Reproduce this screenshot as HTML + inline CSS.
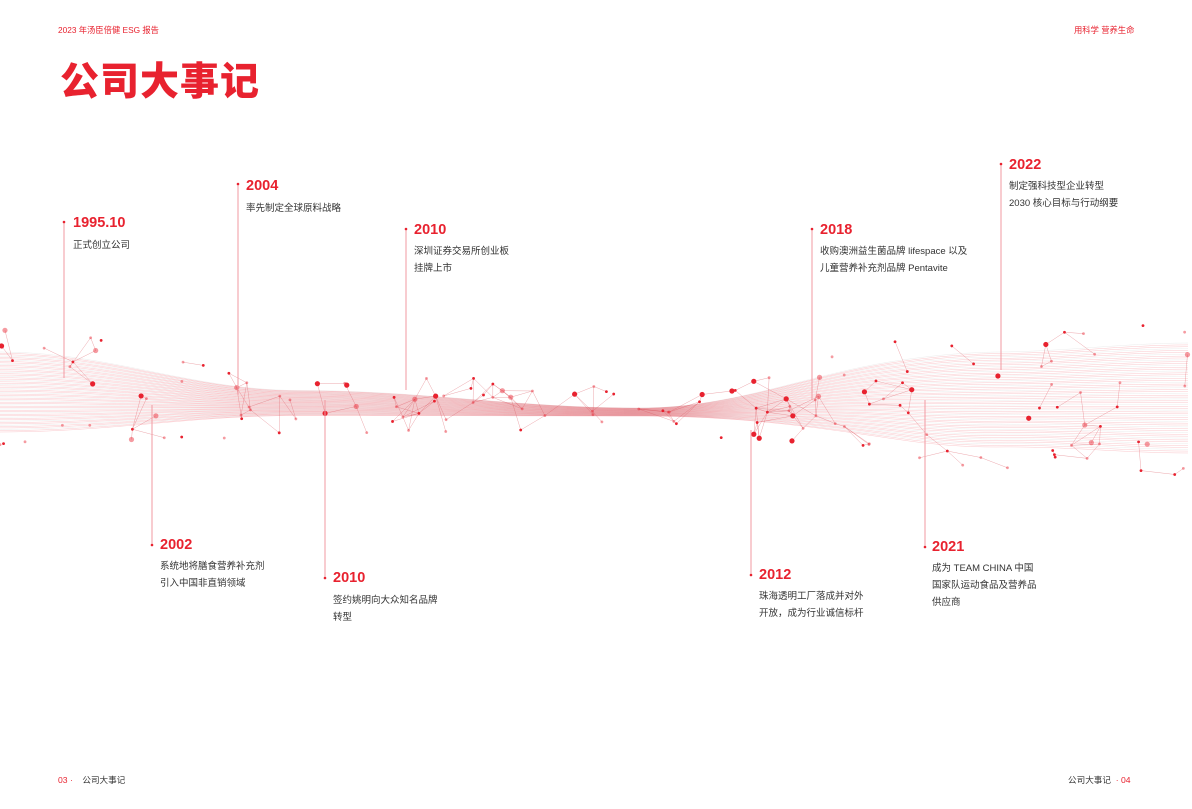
<!DOCTYPE html>
<html><head><meta charset="utf-8">
<style>
body{margin:0;width:1192px;height:809px;background:#fff;position:relative;overflow:hidden;font-family:"Liberation Sans","Noto Sans CJK SC",sans-serif;}
.a{position:absolute;white-space:nowrap}
.hd{font-size:8.3px;color:#e8222f;top:24px}
.tt{left:60px;top:51px;font-size:39px;font-weight:900;color:#e8222f;letter-spacing:1px}
.yr{font-size:14.5px;font-weight:bold;color:#e8222f}
.ds{font-size:9.5px;color:#333;line-height:17px}
.ft{font-size:8.6px;top:774px;color:#333}
svg{position:absolute;left:0;top:0}
</style></head><body>
<svg id="s" width="1192" height="809"></svg>
<div class="a hd" style="left:58px">2023 年汤臣倍健 ESG 报告</div>
<div class="a hd" style="left:1074px">用科学 营养生命</div>
<div class="a tt">公司大事记</div>

<div class="a yr" style="left:73px;top:215px">1995.10</div>
<div class="a ds" style="left:73px;top:237px">正式创立公司</div>
<div class="a yr" style="left:246px;top:178px">2004</div>
<div class="a ds" style="left:246px;top:200px">率先制定全球原料战略</div>
<div class="a yr" style="left:414px;top:222px">2010</div>
<div class="a ds" style="left:414px;top:243px">深圳证券交易所创业板<br>挂牌上市</div>
<div class="a yr" style="left:820px;top:222px">2018</div>
<div class="a ds" style="left:820px;top:243px">收购澳洲益生菌品牌 lifespace 以及<br>儿童营养补充剂品牌 Pentavite</div>
<div class="a yr" style="left:1009px;top:157px">2022</div>
<div class="a ds" style="left:1009px;top:178px">制定强科技型企业转型<br>2030 核心目标与行动纲要</div>

<div class="a yr" style="left:160px;top:537px">2002</div>
<div class="a ds" style="left:160px;top:558px">系统地将膳食营养补充剂<br>引入中国非直销领域</div>
<div class="a yr" style="left:333px;top:570px">2010</div>
<div class="a ds" style="left:333px;top:592px">签约姚明向大众知名品牌<br>转型</div>
<div class="a yr" style="left:759px;top:567px">2012</div>
<div class="a ds" style="left:759px;top:588px">珠海透明工厂落成并对外<br>开放，成为行业诚信标杆</div>
<div class="a yr" style="left:932px;top:539px">2021</div>
<div class="a ds" style="left:932px;top:560px">成为 TEAM CHINA 中国<br>国家队运动食品及营养品<br>供应商</div>

<div class="a ft" style="left:58px"><span style="color:#e8222f">03 ·</span>&nbsp;&nbsp;&nbsp; 公司大事记</div>
<div class="a ft" style="left:1068px">公司大事记 &nbsp;<span style="color:#e8222f">· 04</span></div>

<script>
var s=document.getElementById('s'),h='';
function lerp(pts,x){for(var i=0;i<pts.length-1;i++){if(x<=pts[i+1][0]){var t=(x-pts[i][0])/(pts[i+1][0]-pts[i][0]);t=(1-Math.cos(Math.PI*t))/2;return pts[i][1]+(pts[i+1][1]-pts[i][1])*t;}}return pts[pts.length-1][1];}
var C=[[0,392],[300,403],[640,412],[900,400],[1192,398]];
var W=[[0,80],[300,25],[640,8],[1000,95],[1192,110]];
for(var i=0;i<60;i++){var d='';for(var x=0;x<=1192;x+=12){var y=lerp(C,x)+(i/59-0.5)*lerp(W,x);d+=(x?'L':'M')+x+' '+y.toFixed(1);}
h+='<path d="'+d+'" fill="none" stroke="'+(i%3==0?'#c0c0c0':'#ef4a55')+'" stroke-width="0.5" opacity="0.3"/>';}
var seed=7;function r(){seed=(seed*16807)%2147483647;return seed/2147483647;}
var P=[];for(var k=0;k<160;k++){var x=r()*1192,y=lerp(C,x)+(r()-0.5)*(lerp(W,x)+45);P.push([x,y]);}
for(var k=0;k<P.length;k++){for(var j=k+1;j<P.length;j++){var dx=P[k][0]-P[j][0],dy=P[k][1]-P[j][1];if(dx*dx+dy*dy<1400&&r()<0.5)h+='<line x1="'+P[k][0]+'" y1="'+P[k][1]+'" x2="'+P[j][0]+'" y2="'+P[j][1]+'" stroke="#d9505a" stroke-width="0.5" opacity="0.5"/>';}}
for(var k=0;k<P.length;k++){var rr=r()<0.15?2.6:1.4;h+='<circle cx="'+P[k][0]+'" cy="'+P[k][1]+'" r="'+rr+'" fill="#e8222f" opacity="'+(r()<0.5?1:0.45)+'"/>';}
var L=[[64,222,378],[238,184,395],[406,229,390],[812,229,400],[1001,164,370]];
L.forEach(function(l){h+='<line x1="'+l[0]+'" y1="'+l[1]+'" x2="'+l[0]+'" y2="'+l[2]+'" stroke="#f19aa2" stroke-width="1"/><circle cx="'+l[0]+'" cy="'+l[1]+'" r="1.3" fill="#e8222f"/>';});
var D=[[152,405,545],[325,400,578],[751,430,575],[925,400,547]];
D.forEach(function(l){h+='<line x1="'+l[0]+'" y1="'+l[1]+'" x2="'+l[0]+'" y2="'+l[2]+'" stroke="#f19aa2" stroke-width="1"/><circle cx="'+l[0]+'" cy="'+l[2]+'" r="1.3" fill="#e8222f"/>';});
s.innerHTML=h;
</script>
</body></html>
